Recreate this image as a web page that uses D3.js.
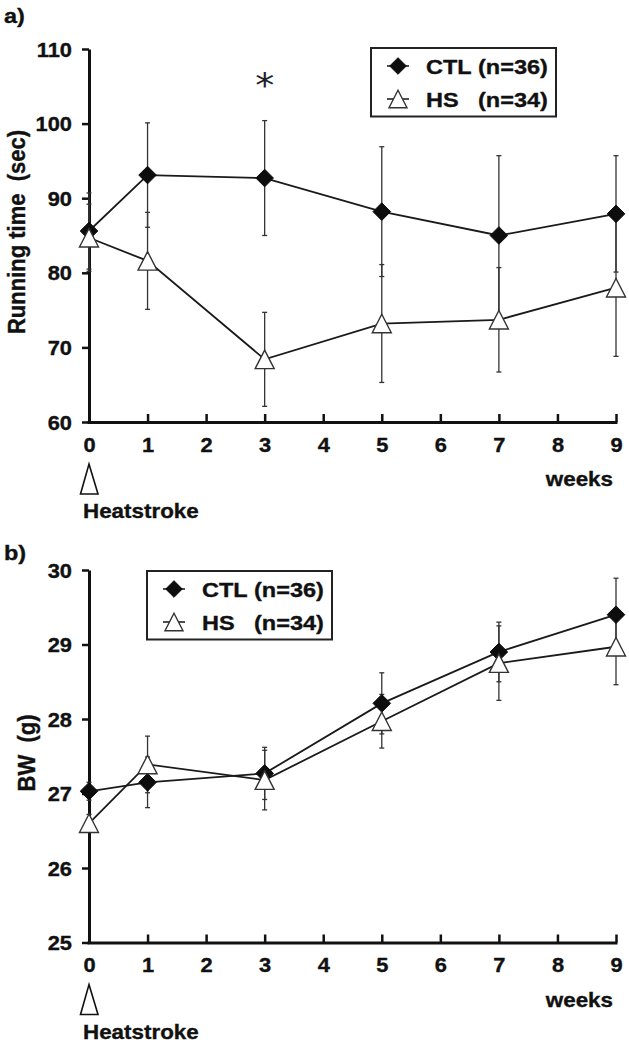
<!DOCTYPE html>
<html>
<head>
<meta charset="utf-8">
<script src="https://cdn.jsdelivr.net/npm/d3@7"></script>
<style>
  html, body { margin: 0; padding: 0; background: #fff; }
  svg { display: block; }
</style>
</head>
<body>
<svg id="chart" width="629" height="1044"></svg>
<script>
// ---------------- DATA ----------------
const weeks = [0, 1, 3, 5, 7, 9];
const xTicks = [0, 1, 2, 3, 4, 5, 6, 7, 8, 9];

// Panel a) Running time (sec)
const runCTL   = [85.6, 93.1, 92.7, 88.2, 85.0, 87.9];
const runCTLsd = [5.1, 7.0, 7.7, 8.7, 10.7, 7.8];
const runHS    = [84.7, 81.6, 68.4, 73.2, 73.7, 78.0];
const runHSsd  = [4.5, 6.5, 6.3, 7.9, 7.0, 9.2];
const runTicks = [60, 70, 80, 90, 100, 110];

// Panel b) Body weight (g)
const bwCTL   = [27.03, 27.15, 27.27, 28.21, 28.90, 29.40];
const bwCTLsd = [0.12, 0.34, 0.35, 0.41, 0.40, 0.49];
const bwHS    = [26.60, 27.39, 27.18, 27.97, 28.75, 28.97];
const bwHSsd  = [0.12, 0.38, 0.40, 0.36, 0.50, 0.51];
const bwTicks = [25, 26, 27, 28, 29, 30];

const legendLabels = [["CTL", "(n=36)"], ["HS", "(n=34)"]];
const panelLabels = ["a)", "b)"];

// ---------------- DRAW ----------------
const svg = d3.select("#chart");
const FONT = "'Liberation Sans', Arial, Helvetica, sans-serif";
const SX = 1.12;   // horizontal stretch of the original lettering

function txt(g, x, y, str, o = {}) {
  const t = g.append("text")
    .attr("transform", `translate(${x},${y}) scale(${SX},1)` + (o.rotate ? " rotate(-90)" : ""))
    .attr("text-anchor", o.anchor || "start")
    .style("font-family", o.family || FONT)
    .style("font-weight", o.weight || "bold")
    .style("font-size", (o.size || 20) + "px")
    .style("fill", o.fill || "#111")
    .style("stroke", o.weight === "normal" ? "none" : "#111")
    .style("stroke-width", "0.35px")
    .text(str);
  return t;
}

const diamondPath = r => `M0,${-r}L${r},0L0,${r}L${-r},0Z`;
const trianglePath = (w, h) => `M0,${-h / 2}L${w / 2},${h / 2}L${-w / 2},${h / 2}Z`;

function drawPanel(cfg) {
  const g = svg.append("g");
  const x = d3.scaleLinear().domain([0, 9]).range([89, 616]);
  const y = d3.scaleLinear().domain(cfg.domain).range([cfg.yBottom, cfg.yTop]);
  const axisY = cfg.yBottom;

  // Y axis
  const ya = g.append("g").attr("transform", `translate(${x(0)},0)`)
    .call(d3.axisLeft(y).tickValues(cfg.yTicks).tickSize(7).tickSizeOuter(0).tickPadding(0)
      .tickFormat(d3.format("d")));
  ya.select(".domain").attr("stroke", "#111").attr("stroke-width", 3);
  ya.selectAll(".tick line").attr("stroke", "#111").attr("stroke-width", 2.5);
  ya.selectAll(".tick text")
    .attr("x", null).attr("dy", null)
    .attr("transform", `translate(-17,7) scale(${SX},1)`)
    .attr("text-anchor", "end")
    .style("font-family", FONT).style("font-weight", "bold").style("font-size", "19.5px")
    .style("fill", "#111").style("stroke", "#111").style("stroke-width", "0.35px");

  // X axis (ticks pointing inward)
  const xa = g.append("g").attr("transform", `translate(0,${axisY})`)
    .call(d3.axisBottom(x).tickValues(xTicks).tickSizeInner(-8).tickSizeOuter(0).tickFormat(d3.format("d")));
  xa.select(".domain").attr("stroke", "#111").attr("stroke-width", 3)
    .attr("d", `M${x(0) - 1.5},0.5H${x(9) + 1.5}`);
  xa.selectAll(".tick line").attr("stroke", "#111").attr("stroke-width", 2.5);
  xa.selectAll(".tick text")
    .attr("y", null).attr("dy", null)
    .attr("transform", `translate(0,29.5) scale(${SX},1)`)
    .attr("text-anchor", "middle")
    .style("font-family", FONT).style("font-weight", "bold").style("font-size", "19.5px")
    .style("fill", "#111").style("stroke", "#111").style("stroke-width", "0.35px");

  // Heatstroke arrow + label
  g.append("path")
    .attr("d", `M${x(0)},${axisY + 42}L${x(0) + 9},${axisY + 72}L${x(0) - 8.5},${axisY + 72}Z`)
    .attr("fill", "#fff").attr("stroke", "#111").attr("stroke-width", 1.6).attr("stroke-linejoin", "miter");
  txt(g, 83, axisY + 96, "Heatstroke", { size: 20 });
  txt(g, 613, axisY + 64, "weeks", { size: 20, anchor: "end" });

  // Y label
  txt(g, cfg.yLabelX, cfg.yLabelY, cfg.yLabel, { size: 22, rotate: true, anchor: "middle" });

  // Panel label
  txt(g, 4, cfg.panelLabelY, cfg.panelLabel, { size: 21 });

  const series = [
    { m: cfg.ctl, sd: cfg.ctlSd, type: "diamond" },
    { m: cfg.hs,  sd: cfg.hsSd,  type: "triangle" }
  ];

  // Error bars
  series.forEach(s => {
    const eb = g.append("g");
    weeks.forEach((w, i) => {
      const cx = x(w), top = y(s.m[i] + s.sd[i]), bot = y(s.m[i] - s.sd[i]);
      eb.append("line").attr("x1", cx).attr("x2", cx).attr("y1", top).attr("y2", bot)
        .attr("stroke", "#333").attr("stroke-width", 1.3);
      [top, bot].forEach(yy => eb.append("line")
        .attr("x1", cx - 2.5).attr("x2", cx + 2.5).attr("y1", yy).attr("y2", yy)
        .attr("stroke", "#333").attr("stroke-width", 1.3));
    });
  });

  // Lines
  const line = d3.line().x((d, i) => x(weeks[i])).y(d => y(d));
  series.forEach(s => {
    g.append("path").datum(s.m).attr("d", line)
      .attr("fill", "none").attr("stroke", "#1a1a1a").attr("stroke-width", 1.8);
  });

  // Markers
  series.forEach(s => {
    g.append("g").selectAll("path").data(s.m).join("path")
      .attr("transform", (d, i) => `translate(${x(weeks[i])},${y(d)})`)
      .attr("d", s.type === "diamond" ? diamondPath(8.8) : trianglePath(19, 18.5))
      .attr("fill", s.type === "diamond" ? "#0d0d0d" : "#fff")
      .attr("stroke", s.type === "diamond" ? "#0d0d0d" : "#333")
      .attr("stroke-width", s.type === "diamond" ? 1 : 1.4);
  });

  // Legend
  const L = g.append("g").attr("transform", `translate(${cfg.legX},${cfg.legY})`);
  L.append("rect").attr("x", 0).attr("y", 0).attr("width", 185).attr("height", 68.5)
    .attr("fill", "#fff").attr("stroke", "#222").attr("stroke-width", 2);
  [18, 51].forEach((my, k) => {
    L.append("line").attr("x1", 16).attr("x2", 38).attr("y1", my).attr("y2", my)
      .attr("stroke", "#222").attr("stroke-width", 1.6);
    L.append("path").attr("transform", `translate(27,${my})`)
      .attr("d", k === 0 ? diamondPath(8.3) : trianglePath(18, 17.5))
      .attr("fill", k === 0 ? "#0d0d0d" : "#fff")
      .attr("stroke", k === 0 ? "#0d0d0d" : "#333").attr("stroke-width", k === 0 ? 1 : 1.4);
    txt(L, 55, my + 7.5, legendLabels[k][0], { size: 21 });
    txt(L, 107, my + 7.5, legendLabels[k][1], { size: 21 });
  });

  return { g, x, y };
}

const pa = drawPanel({
  domain: [60, 110], yTop: 49, yBottom: 422, yTicks: runTicks,
  ctl: runCTL, ctlSd: runCTLsd, hs: runHS, hsSd: runHSsd,
  yLabel: "Running time\u00A0 (sec)", yLabelX: 25, yLabelY: 232,
  panelLabel: panelLabels[0], panelLabelY: 23,
  legX: 371, legY: 48
});

// significance asterisk at week 3
txt(pa.g, pa.x(3), 97, "*", { size: 34, weight: "normal", family: "'DejaVu Sans', sans-serif", anchor: "middle", fill: "#222" });

drawPanel({
  domain: [25, 30], yTop: 570, yBottom: 942.5, yTicks: bwTicks,
  ctl: bwCTL, ctlSd: bwCTLsd, hs: bwHS, hsSd: bwHSsd,
  yLabel: "BW\u00A0 (g)", yLabelX: 35, yLabelY: 753,
  panelLabel: panelLabels[1], panelLabelY: 560,
  legX: 147, legY: 571
});
</script>
</body>
</html>
